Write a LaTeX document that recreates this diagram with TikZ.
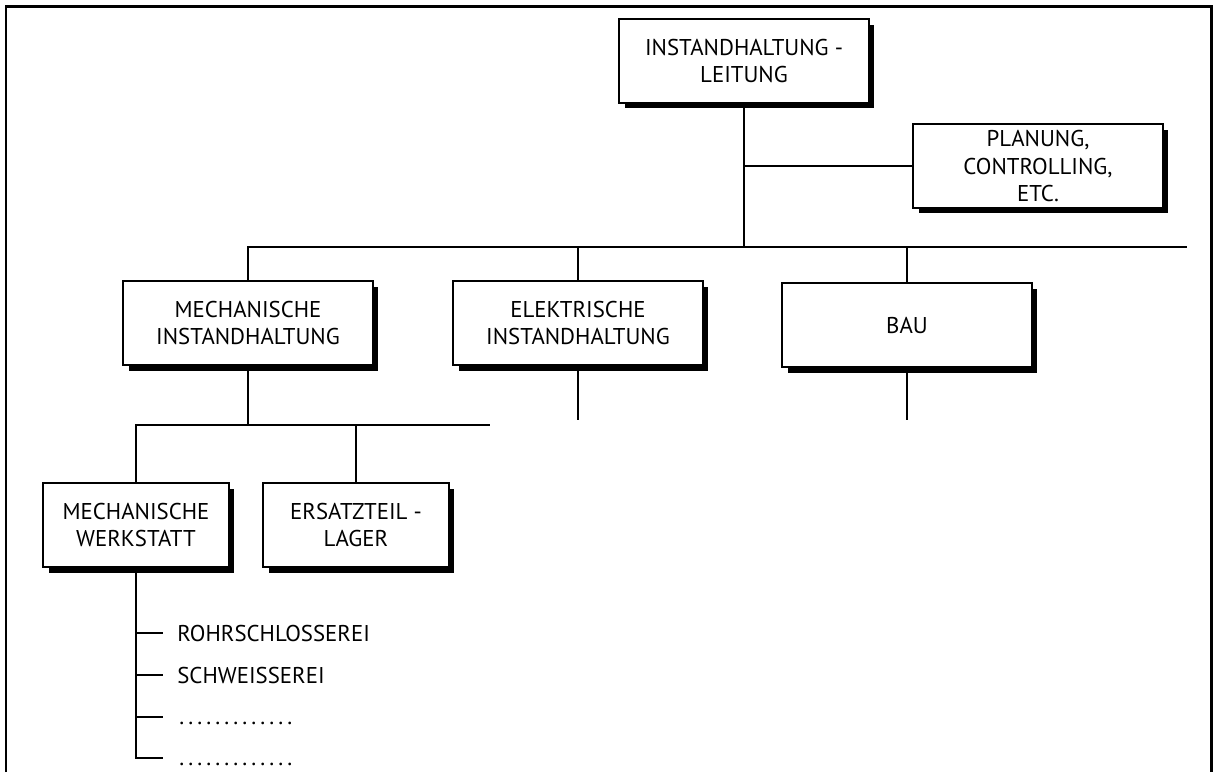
\documentclass[tikz,border=0pt]{standalone}
\usepackage{fontspec}
\setmainfont{PT Sans}
\usepackage{tikz}
\usetikzlibrary{shadows}

\newcommand{\punktreihe}{\vphantom{A}\hbox to 2.34cm{\xleaders\hbox to 0.18cm{\hss.\hss}\hfill}}

\begin{document}
\begin{tikzpicture}[x=0.02cm,y=-0.02cm,line join=miter,
        kasten/.style={draw,line width=1.4pt,fill=white,minimum width=5cm,minimum height=1.68cm,
            inner sep=0pt,align=center,font=\fontsize{13}{15.5}\selectfont,
            drop shadow={shadow xshift=0.11cm,shadow yshift=-0.11cm,fill=black,opacity=1}},
        klein/.style={kasten,minimum width=3.72cm},
        linie/.style={line width=1.1pt},
        eintrag/.style={anchor=west,inner sep=0pt,font=\fontsize{13}{15.5}\selectfont}]
        \useasboundingbox (0,0) rectangle (1214,772);

        % Rahmen
        \draw[line width=1.7pt] (6,772) -- (6,6) -- (1211,6) -- (1211,772);

        \coordinate (busR) at (1187,247);
        \coordinate (subR) at (490,425);
        \coordinate (elekEnde) at (578,420);
        \coordinate (bauEnde) at (907,420);

        \node[kasten] (leit) at (744,61) {INSTANDHALTUNG -\\LEITUNG};
        \node[kasten] (plan) at (1038,166) {PLANUNG,\\CONTROLLING,\\ETC.};
        \node[kasten] (mech) at (248,323) {MECHANISCHE\\INSTANDHALTUNG};
        \node[kasten] (elek) at (578,323) {ELEKTRISCHE\\INSTANDHALTUNG};
        \node[kasten] (bau) at (907,325) {BAU};
        \node[klein] (werk) at (136,525) {MECHANISCHE\\WERKSTATT};
        \node[klein] (lager) at (356,525) {ERSATZTEIL -\\LAGER};

        \node[eintrag] (rohr) at (177,633) {ROHRSCHLOSSEREI};
        \node[eintrag] (schw) at (177,675) {SCHWEISSEREI};
        \node[eintrag] (pktA) at (177,717) {\punktreihe};
        \node[eintrag] (pktB) at (177,758) {\punktreihe};

        % Linien
        \draw[linie] (leit.south) -- (leit.south |- busR);
        \draw[linie] (leit.south |- plan.west) -- (plan.west);
        \draw[linie] (mech.north) |- (busR);
        \draw[linie] (elek.north) -- (elek.north |- busR);
        \draw[linie] (bau.north) -- (bau.north |- busR);
        \draw[linie] (elek.south) -- (elekEnde);
        \draw[linie] (bau.south) -- (bauEnde);
        \draw[linie] (mech.south) -- (mech.south |- subR);
        \draw[linie] (werk.north) |- (subR);
        \draw[linie] (lager.north) -- (lager.north |- subR);
        \draw[linie] (werk.south) |- ([xshift=-0.28cm]pktB.west);
        \foreach \e in {rohr,schw,pktA}
            \draw[linie] (werk.south |- \e.west) -- ([xshift=-0.28cm]\e.west);
    \end{tikzpicture}
\end{document}
